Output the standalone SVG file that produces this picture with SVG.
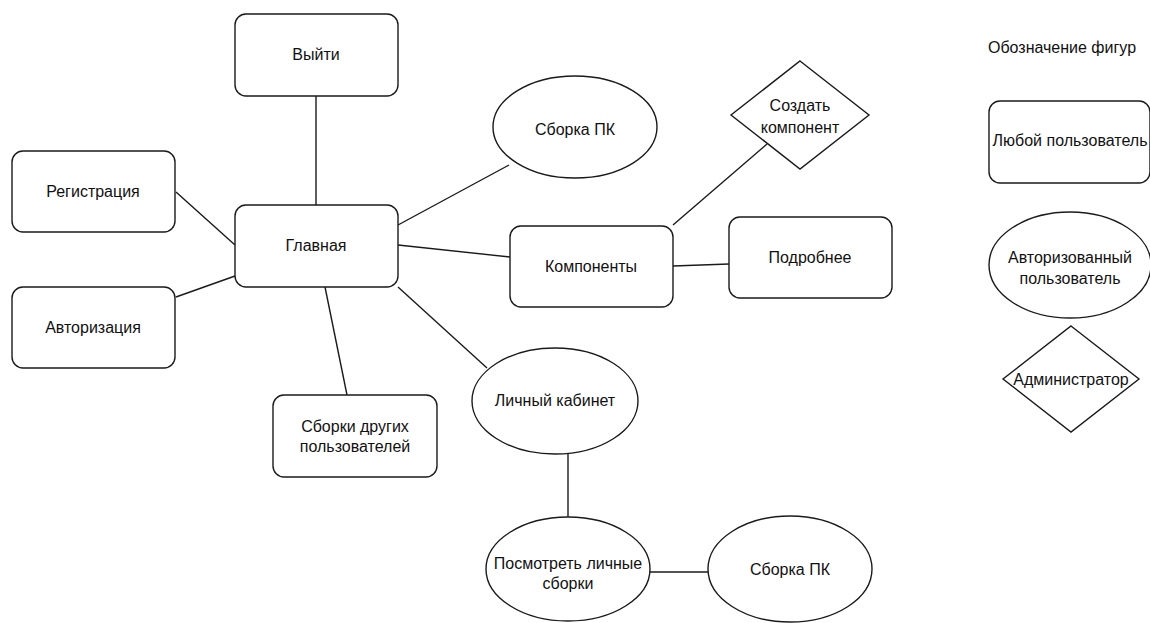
<svg xmlns="http://www.w3.org/2000/svg" width="1150" height="623" viewBox="0 0 1150 623">
  <style>
    .shape { fill: #ffffff; stroke: #1a1a1a; stroke-width: 1.4; }
    .edge { fill: none; stroke: #1a1a1a; stroke-width: 1.4; }
    text { font-family: "Liberation Sans", Arial, sans-serif; font-size: 16px; fill: #111111; text-anchor: middle; dominant-baseline: central; }
  </style>
  <rect width="1150" height="623" fill="#ffffff"/>

  <!-- links between screens -->
  <g id="connectors">
    <line class="edge" x1="316" y1="96" x2="316" y2="205"/>
    <line class="edge" x1="176" y1="192" x2="235" y2="245"/>
    <line class="edge" x1="176" y1="297" x2="235" y2="276"/>
    <line class="edge" x1="398" y1="225" x2="509" y2="165"/>
    <line class="edge" x1="398" y1="245" x2="510" y2="257"/>
    <line class="edge" x1="673" y1="225" x2="767" y2="144"/>
    <line class="edge" x1="673" y1="266" x2="729" y2="264"/>
    <line class="edge" x1="325" y1="287" x2="347" y2="395"/>
    <line class="edge" x1="398" y1="287" x2="487" y2="368"/>
    <line class="edge" x1="568" y1="454" x2="568" y2="517"/>
    <line class="edge" x1="650" y1="572" x2="708" y2="572"/>
  </g>

  <g id="node-exit">
    <rect class="shape" x="235" y="14" width="163" height="82" rx="11"/>
    <text x="316" y="54">Выйти</text>
  </g>
  <g id="node-register">
    <rect class="shape" x="12" y="151" width="163" height="81" rx="11"/>
    <text x="93" y="191">Регистрация</text>
  </g>
  <g id="node-login">
    <rect class="shape" x="12" y="287" width="163" height="81" rx="11"/>
    <text x="93" y="327">Авторизация</text>
  </g>
  <g id="node-main">
    <rect class="shape" x="235" y="205" width="163" height="82" rx="11"/>
    <text x="316" y="245">Главная</text>
  </g>
  <g id="node-build">
    <ellipse class="shape" cx="575" cy="127" rx="82" ry="51"/>
    <text x="575" y="129">Сборка ПК</text>
  </g>
  <g id="node-create-component">
    <polygon class="shape" points="800,61 869,115 800,169 731,115"/>
    <text x="800" y="105">Создать</text>
    <text x="800" y="127">компонент</text>
  </g>
  <g id="node-components">
    <rect class="shape" x="510" y="226" width="163" height="81" rx="11"/>
    <text x="591" y="266">Компоненты</text>
  </g>
  <g id="node-details">
    <rect class="shape" x="729" y="217" width="163" height="81" rx="11"/>
    <text x="810" y="257">Подробнее</text>
  </g>
  <g id="node-others-builds">
    <rect class="shape" x="273" y="395" width="164" height="82" rx="11"/>
    <text x="355" y="426">Сборки других</text>
    <text x="355" y="446">пользователей</text>
  </g>
  <g id="node-cabinet">
    <ellipse class="shape" cx="555" cy="401" rx="83" ry="53"/>
    <text x="555" y="400">Личный кабинет</text>
  </g>
  <g id="node-my-builds">
    <ellipse class="shape" cx="568" cy="569" rx="82" ry="52"/>
    <text x="568" y="563">Посмотреть личные</text>
    <text x="568" y="583">сборки</text>
  </g>
  <g id="node-build-2">
    <ellipse class="shape" cx="790" cy="569" rx="82" ry="53"/>
    <text x="790" y="569">Сборка ПК</text>
  </g>

  <!-- shape legend -->
  <g id="legend-title">
    <text x="1062" y="47">Обозначение фигур</text>
  </g>
  <g id="legend-any-user">
    <rect class="shape" x="989" y="101" width="161" height="82" rx="11"/>
    <text x="1070" y="140">Любой пользователь</text>
  </g>
  <g id="legend-auth-user">
    <ellipse class="shape" cx="1070" cy="265" rx="81" ry="53"/>
    <text x="1070" y="257">Авторизованный</text>
    <text x="1070" y="278">пользователь</text>
  </g>
  <g id="legend-admin">
    <polygon class="shape" points="1071,326 1139,379 1071,432 1003,379"/>
    <text x="1071" y="379">Администратор</text>
  </g>
</svg>
